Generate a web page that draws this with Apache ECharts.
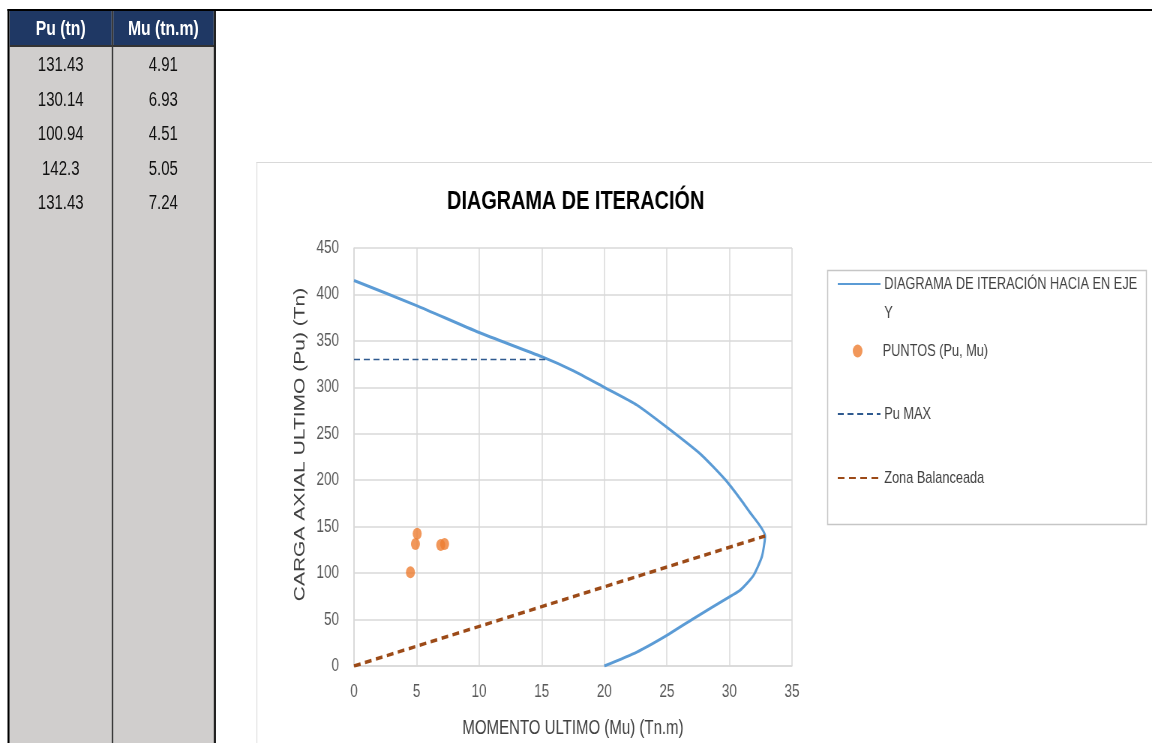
<!DOCTYPE html>
<html>
<head>
<meta charset="utf-8">
<script src="https://cdn.jsdelivr.net/npm/echarts@6/dist/echarts.min.js"></script>
<style>
  html, body { margin: 0; padding: 0; background: #fff; overflow: hidden; }
  body { width: 1152px; height: 743px; }
  /* the reference is a horizontally squeezed screenshot, so the page is laid out wider and squeezed */
  #page { position: absolute; left: 0; top: 0; width: 1536px; height: 743px;
          transform: scaleX(0.75); transform-origin: 0 0;
          font-family: 'Liberation Sans', Arial, sans-serif; }
  .abs { position: absolute; }
  .col { position: absolute; top: 11px; height: 732px; background: #d0cecd; }
  .head { position: absolute; top: 11px; height: 34px; background: #1f3864; color: #fff;
          font-weight: bold; font-size: 21px; line-height: 34px; text-align: center; }
  .cell { position: absolute; height: 34.5px; line-height: 34.5px; font-size: 20px;
          color: #111; text-align: center; }
  #chartBox { position: absolute; left: 342px; top: 162px; width: 1194px; height: 581px;
              border-left: 1.5px solid #d9d9d9; border-top: 1px solid #d9d9d9; }
  #chart { position: absolute; left: 344px; top: 164px; width: 1192px; height: 579px; }
</style>
</head>
<body>
<div id="page">
  <div class="abs" style="left:10px;top:9px;width:1526px;height:2px;background:#000"></div>
  <div class="abs" style="left:9.5px;top:9px;width:3.5px;height:734px;background:#000"></div>
  <div class="col" style="left:13px;width:136px"></div>
  <div class="col" style="left:150.5px;width:134.5px"></div>
  <div class="head" style="left:13px;width:136px">Pu (tn)</div>
  <div class="head" style="left:150.5px;width:134.5px">Mu (tn.m)</div>
  <div class="abs" style="left:13px;top:45px;width:273px;height:1.5px;background:#333"></div>
  <div class="abs" style="left:148.5px;top:11px;width:2px;height:732px;background:#3a3a3a"></div>
  <div class="abs" style="left:285px;top:11px;width:2.5px;height:732px;background:#222"></div>
  <div id="rows"></div>
  <div id="chartBox"></div>
  <div id="chart"></div>
</div>
<script>
// puntos (Pu, Mu) de la tabla
const puPts = [131.43, 130.14, 100.94, 142.3, 131.43]
const muPts = [4.91, 6.93, 4.51, 5.05, 7.24]

// diagrama de interaccion (Mu, Pu)
const curveMu = [0, 5, 10, 15, 17.5, 20, 22.6, 25, 27.7, 29.7, 31.6, 32.85, 32.6, 31.9, 30.9, 30.2, 27, 25, 22.6, 20]
const curvePu = [415, 388, 359, 333, 318, 300, 281, 257, 228, 200, 166, 140, 118, 97, 82, 76, 50, 33, 15, 0]

// Pu max y zona balanceada
const puMaxMu = [0, 15.4]
const puMaxPu = [330, 330]
const balMu = [0, 32.85]
const balPu = [0, 140]

const seriesNames = ['DIAGRAMA DE ITERACIÓN HACIA EN EJE Y', 'PUNTOS (Pu, Mu)', 'Pu MAX', 'Zona Balanceada']

// tabla
const rows = document.getElementById('rows')
puPts.forEach((pu, i) => {
  const top = 47 + i * 34.5
  rows.insertAdjacentHTML('beforeend',
    `<div class="cell" style="left:13px;width:136px;top:${top}px">${pu}</div>` +
    `<div class="cell" style="left:150.5px;width:134.5px;top:${top}px">${muPts[i]}</div>`)
})

const pairs = (xs, ys) => xs.map((x, i) => [x, ys[i]])
const FONT = "'Liberation Sans', Arial, sans-serif"

const chart = echarts.init(document.getElementById('chart'), null, { renderer: 'canvas' })

const legendText = { fontFamily: FONT, fontSize: 17, lineHeight: 17, color: '#404040' }
const lineLegend = {
  orient: 'vertical', left: 772, padding: 0, itemWidth: 57, itemHeight: 14,
  itemStyle: { opacity: 0, borderWidth: 0 },
  textStyle: legendText,
}

const option = {
  animation: false,
  title: {
    text: 'DIAGRAMA DE ITERACIÓN',
    left: 247, top: 19,
    textStyle: { fontFamily: FONT, fontSize: 26.5, fontWeight: 'bold', color: '#000' },
  },
  legend: [
    { ...lineLegend, top: 76.5, data: [seriesNames[0]],
      // empty first line so the icon sits on the first text line
      formatter: n => '\n' + n.replace(' EJE Y', ' EJE\nY'),
      textStyle: { ...legendText, lineHeight: 29 } },
    { orient: 'vertical', left: 793, top: 178.5, padding: 0, itemWidth: 57, itemHeight: 13,
      textStyle: legendText, data: [seriesNames[1]] },
    { ...lineLegend, top: 241.5, data: [seriesNames[2]] },
    { ...lineLegend, top: 305.5, data: [seriesNames[3]] },
  ],
  graphic: [{
    type: 'rect', left: 757, top: 104, silent: true,
    shape: { width: 425, height: 254 },
    style: { fill: 'none', stroke: '#c6c6c6', lineWidth: 1.5 },
  }],
  grid: { left: 128, top: 84, width: 584, height: 423 },
  xAxis: {
    type: 'value', min: 0, max: 35, interval: 5,
    name: 'MOMENTO ULTIMO (Mu) (Tn.m)', nameLocation: 'middle', nameGap: 52,
    nameTextStyle: { fontFamily: FONT, fontSize: 20, color: '#404040' },
    axisLine: { show: true, lineStyle: { color: '#d9d9d9', width: 1.5 } },
    axisTick: { show: false },
    axisLabel: { fontFamily: FONT, fontSize: 18, color: '#595959', margin: 17 },
    splitLine: { lineStyle: { color: '#d9d9d9', width: 1.5 } },
  },
  yAxis: {
    type: 'value', min: 0, max: 450, interval: 50,
    name: 'CARGA AXIAL ULTIMO (Pu) (Tn)', nameLocation: 'middle', nameGap: 61, nameRotate: 90,
    nameTextStyle: { fontFamily: FONT, fontSize: 21, color: '#404040', padding: [0, 0, 0, 25] },
    axisLine: { show: true, lineStyle: { color: '#d9d9d9', width: 1.5 } },
    axisTick: { show: false },
    axisLabel: { fontFamily: FONT, fontSize: 18, color: '#595959', margin: 20 },
    splitLine: { lineStyle: { color: '#d9d9d9', width: 1.5 } },
  },
  series: [
    {
      name: seriesNames[0], type: 'line', data: pairs(curveMu, curvePu), smooth: 0.2,
      symbol: 'none', lineStyle: { color: '#5b9bd5', width: 3 }, itemStyle: { color: '#5b9bd5' }, z: 2,
    },
    {
      name: seriesNames[1], type: 'scatter', data: pairs(muPts, puPts),
      symbol: 'circle', symbolSize: 12, itemStyle: { color: '#ed7d31' }, z: 3,
    },
    {
      name: seriesNames[2], type: 'line', data: pairs(puMaxMu, puMaxPu),
      symbol: 'none', lineStyle: { color: '#2f5a8f', width: 1.6, type: [8, 5] },
      itemStyle: { color: '#2f5a8f' }, z: 4,
    },
    {
      name: seriesNames[3], type: 'line', data: pairs(balMu, balPu),
      symbol: 'none', lineStyle: { color: '#9c4a17', width: 3.5, type: [9, 6] },
      itemStyle: { color: '#9c4a17' }, z: 5,
    },
  ],
}

chart.setOption(option)
</script>
</body>
</html>
